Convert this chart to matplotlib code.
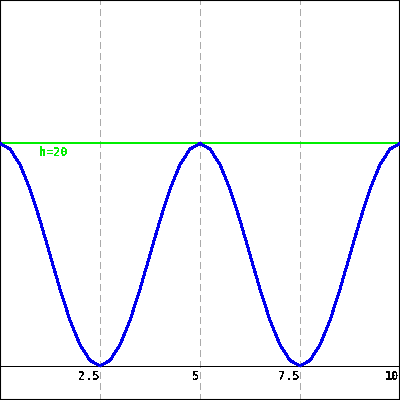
import numpy as np
import matplotlib
import matplotlib.pyplot as plt

matplotlib.rcParams['text.antialiased'] = False

# height over time (one full period = 5)
t = [0, 0.25, 0.5, 0.75, 1.0, 1.25, 1.5, 1.75, 2.0, 2.25, 2.5,
     2.75, 3.0, 3.25, 3.5, 3.75, 4.0, 4.25, 4.5, 4.75, 5.0,
     5.25, 5.5, 5.75, 6.0, 6.25, 6.5, 6.75, 7.0, 7.25, 7.5,
     7.75, 8.0, 8.25, 8.5, 8.75, 9.0, 9.25, 9.5, 9.75, 10.0]
h = [20.0, 19.5, 18.1, 15.9, 13.1, 10.0, 6.9, 4.1, 1.9, 0.5, 0.0,
     0.5, 1.9, 4.1, 6.9, 10.0, 13.1, 15.9, 18.1, 19.5, 20.0,
     19.5, 18.1, 15.9, 13.1, 10.0, 6.9, 4.1, 1.9, 0.5, 0.0,
     0.5, 1.9, 4.1, 6.9, 10.0, 13.1, 15.9, 18.1, 19.5, 20.0]
h_line = 20
h_label = 'h=20'
xticks = [2.5, 5, 7.5, 10]
xtick_labels = ['2.5', '5', '7.5', '10']

fig = plt.figure(figsize=(4, 4), dpi=100)
ax = fig.add_axes([0, 0, 1, 1])
ax.set_xlim(0, 10)
ax.set_ylim(-3.06, 32.9)
ax.set_xticks([])
ax.set_yticks([])
for s in ax.spines.values():
    s.set_linewidth(1.5)
    s.set_color('black')

# dashed grid
for x in xticks[:-1]:
    ax.axvline(x, color='#aaaaaa', lw=0.75, ls=(0, (6, 4)), antialiased=False, zorder=1)

# x axis
ax.axhline(0, color='black', lw=0.72, antialiased=True, zorder=2)

ax.axhline(h_line, color='#00ee00', lw=1.1, antialiased=False, zorder=3)
ax.annotate(h_label, (0.97, h_line), xytext=(0, -1.5), textcoords='offset points',
            ha='left', va='top', color='#00ee00', fontsize=8.5,
            family='DejaVu Sans Mono', weight='bold')

ax.plot(t, h, color='#0000ee', lw=1.4, antialiased=False, zorder=4)

for x, lab in zip(xticks, xtick_labels):
    ax.annotate(lab, (x, 0), xytext=(-0.5, -3), textcoords='offset points',
                ha='right', va='top', color='black', fontsize=8.5,
                family='DejaVu Sans Mono', weight='bold')

fig.savefig('out.png', dpi=100)
